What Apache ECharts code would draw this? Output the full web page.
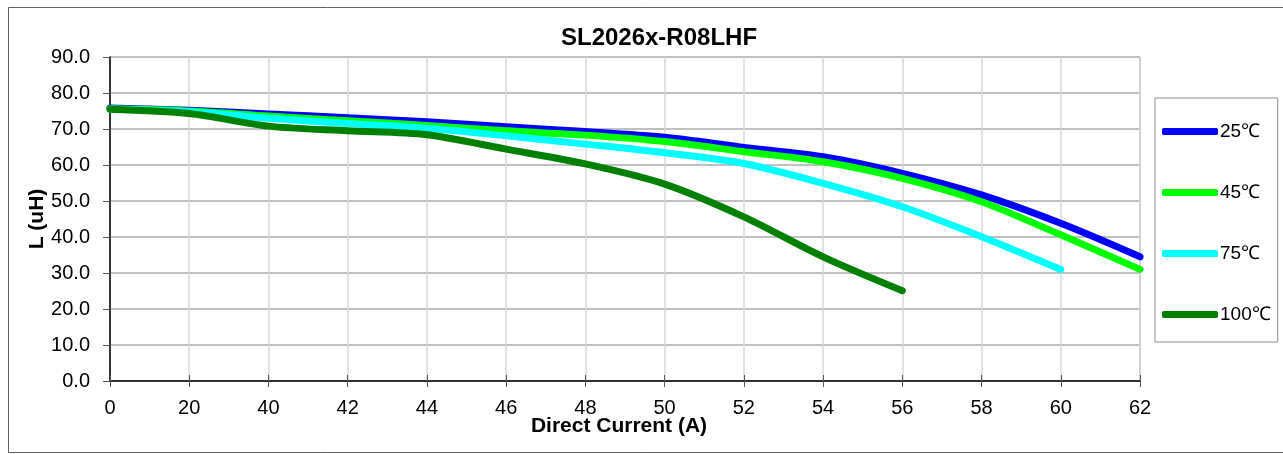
<!DOCTYPE html>
<html>
<head>
<meta charset="utf-8">
<script src="https://cdn.jsdelivr.net/npm/echarts@6/dist/echarts.min.js"></script>
<style>
  html, body { margin: 0; padding: 0; background: #fff; }
  #chart { width: 1283px; height: 454px; }
</style>
</head>
<body>
<div id="chart"></div>
<script>
var currents = ["0", "20", "40", "42", "44", "46", "48", "50", "52", "54", "56", "58", "60", "62"];
var l25 = [75.8, 75.2, 74.2, 73.1, 72.0, 70.6, 69.3, 67.7, 64.9, 62.3, 57.7, 51.7, 43.8, 34.5];
var l45 = [75.6, 75.0, 73.6, 72.3, 71.0, 69.5, 68.3, 66.5, 63.7, 60.9, 56.3, 49.8, 40.6, 31.0];
var l75 = [75.5, 74.8, 73.0, 71.5, 70.2, 68.1, 65.8, 63.4, 60.4, 54.9, 48.4, 40.1, 31.0];
var l100 = [75.5, 74.3, 70.8, 69.5, 68.4, 64.4, 60.3, 54.7, 45.6, 34.5, 25.1];
var names = ["25℃", "45℃", "75℃", "100℃"];
var colors = ["#0000FF", "#00FF00", "#00FFFF", "#008000"];
var font = "Liberation Sans, Arial, Helvetica, sans-serif";

var chart = echarts.init(document.getElementById("chart"));

function mkSeries(name, data, color) {
    return {
        name: name,
        type: "line",
        data: data,
        smooth: 0.3,
        symbol: "none",
        color: color,
        lineStyle: { width: 7, color: color, cap: "round", join: "round" }
    };
}

chart.setOption({
    animation: false,
    color: colors,
    title: {
        text: "SL2026x-R08LHF",
        left: 654,
        textAlign: "center",
        top: 21,
        textStyle: { fontFamily: font, fontSize: 24, fontWeight: "bold", color: "#000" }
    },
    graphic: [{
        type: "rect",
        shape: { x: 8.5, y: 7.5, width: 1290, height: 445 },
        style: { fill: "none", stroke: "#606060", lineWidth: 1 },
        silent: true
    }],
    legend: {
        orient: "vertical",
        left: 1155,
        top: 98,
        padding: [24, 7, 18, 7],
        itemGap: 42,
        itemWidth: 56,
        itemHeight: 7,
        icon: "roundRect",
        borderColor: "#8c8c8c",
        borderWidth: 1,
        textStyle: { fontFamily: font, fontSize: 19, color: "#000", padding: [0, 0, 0, -3] },
        data: names
    },
    grid: {
        left: 110, right: 143, top: 57, bottom: 73,
        show: true, borderColor: "#707070", borderWidth: 1
    },
    xAxis: [{
        type: "category",
        data: currents,
        boundaryGap: false,
        name: "Direct Current (A)",
        nameLocation: "middle",
        nameGap: 35,
        nameMoveOverlap: false,
        nameTextStyle: { fontFamily: font, fontSize: 21, fontWeight: "bold", color: "#000", padding: [0, 12, 0, 0] },
        axisLine: { lineStyle: { color: "#000", width: 1.5 } },
        axisTick: { show: true, length: 6, lineStyle: { color: "#555" } },
        axisLabel: { fontFamily: font, fontSize: 20, color: "#000", margin: 17 },
        splitLine: { show: true, lineStyle: { color: "#d9d9d9", width: 1.5 } }
    }, {
        type: "category",
        data: currents,
        boundaryGap: false,
        position: "bottom",
        axisLine: { show: false },
        axisTick: { show: true, inside: true, length: 6, lineStyle: { color: "#555" } },
        axisLabel: { show: false },
        splitLine: { show: false }
    }],
    yAxis: {
        type: "value",
        min: 0,
        max: 90,
        interval: 10,
        name: "L (uH)",
        nameLocation: "middle",
        nameGap: 62,
        nameMoveOverlap: false,
        nameTextStyle: { fontFamily: font, fontSize: 21, fontWeight: "bold", color: "#000" },
        axisLine: { show: true, lineStyle: { color: "#000", width: 1.5 } },
        axisTick: { show: true, length: 7, lineStyle: { color: "#555" } },
        axisLabel: {
            fontFamily: font, fontSize: 20, color: "#000", margin: 20,
            formatter: function(v) { return v.toFixed(1); }
        },
        splitLine: { show: true, lineStyle: { color: "#c0c0c0", width: 2 } }
    },
    series: [
        mkSeries(names[0], l25, colors[0]),
        mkSeries(names[1], l45, colors[1]),
        mkSeries(names[2], l75, colors[2]),
        mkSeries(names[3], l100, colors[3])
    ]
});
</script>
</body>
</html>
